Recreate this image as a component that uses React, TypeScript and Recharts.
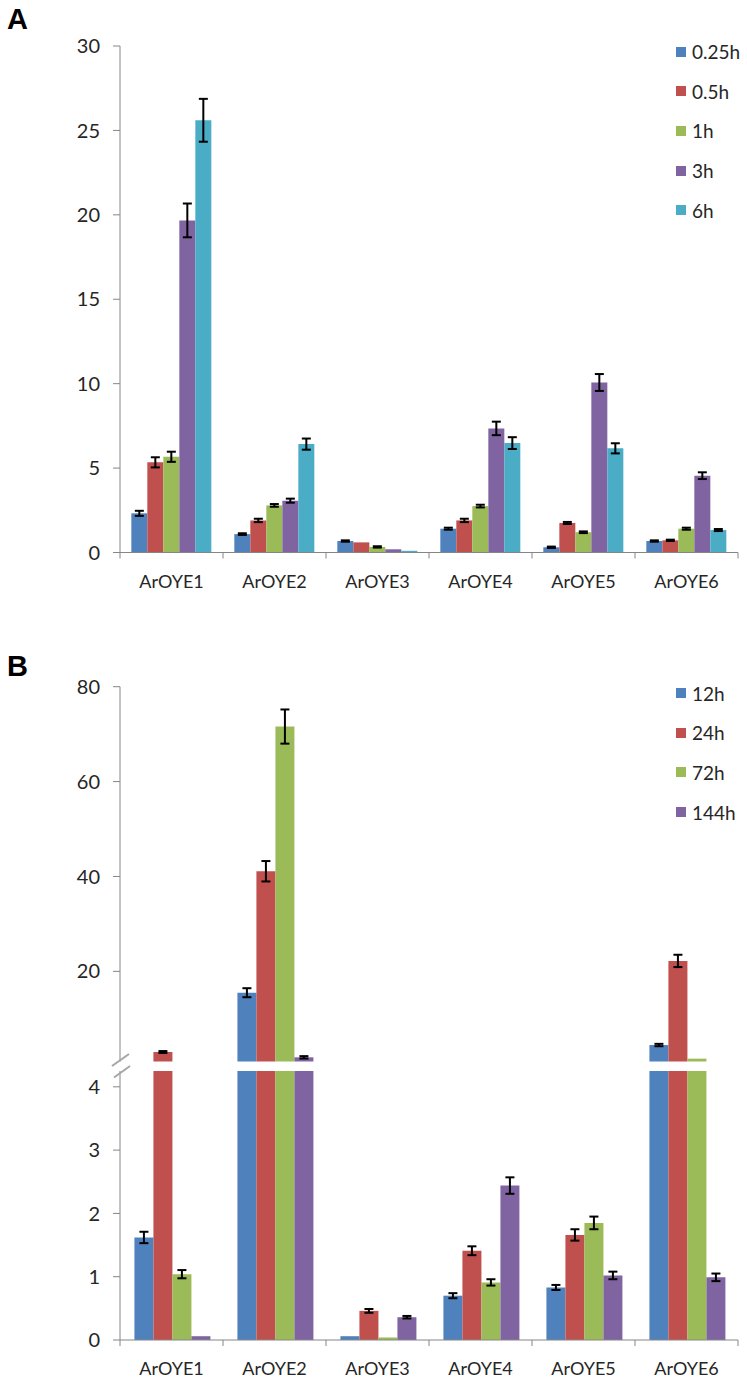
import React from "react";
import { Bar, BarChart, ErrorBar, XAxis, YAxis } from "recharts";

const GENES = ["ArOYE1", "ArOYE2", "ArOYE3", "ArOYE4", "ArOYE5", "ArOYE6"];
const COLORS = ["#4F81BD", "#C0504D", "#9BBB59", "#8064A2", "#4BACC6"];

// panel A: short times
const LABELS_A = ["0.25h", "0.5h", "1h", "3h", "6h"];
const A_025 = [2.32, 1.09, 0.68, 1.41, 0.31, 0.68];
const A_05 = [5.34, 1.9, 0.6, 1.9, 1.75, 0.72];
const A_1 = [5.67, 2.79, 0.33, 2.75, 1.2, 1.41];
const A_3 = [19.67, 3.07, 0.19, 7.35, 10.07, 4.55];
const A_6 = [25.6, 6.42, 0.1, 6.48, 6.17, 1.33];
const A_ERR_025 = [0.15, 0.05, 0.04, 0.06, 0.04, 0.04];
const A_ERR_05 = [0.3, 0.1, 0, 0.1, 0.06, 0.04];
const A_ERR_1 = [0.3, 0.08, 0.04, 0.08, 0.05, 0.06];
const A_ERR_3 = [1.0, 0.12, 0, 0.4, 0.5, 0.2];
const A_ERR_6 = [1.27, 0.33, 0, 0.35, 0.3, 0.06];
const A_TICKS = [0, 5, 10, 15, 20, 25, 30];

// panel B: long times, lower segment (0 - 4.25)
const LABELS_B = ["12h", "24h", "72h", "144h"];
const B_12 = [1.62, 15.5, 0.06, 0.7, 0.83, 4.47];
const B_24 = [4.6, 41.1, 0.46, 1.41, 1.66, 22.2];
const B_72 = [1.04, 71.6, 0.04, 0.91, 1.85, 4.4];
const B_144 = [0.06, 4.5, 0.36, 2.44, 1.02, 0.99];
const B_ERR_12 = [0.09, null, 0, 0.04, 0.04, null];
const B_ERR_24 = [null, null, 0.03, 0.07, 0.09, null];
const B_ERR_72 = [0.065, null, 0, 0.05, 0.1, null];
const B_ERR_144 = [0, null, 0.02, 0.13, 0.06, 0.06];
const B_LOW_TICKS = [0, 1, 2, 3, 4];

// panel B: upper segment, as read on the 20-80 scale
const B_UP_12 = [null, 15.5, null, null, null, 4.47];
const B_UP_24 = [3.0, 41.1, null, null, null, 22.2];
const B_UP_72 = [null, 71.6, null, null, null, 1.6];
const B_UP_144 = [null, 1.88, null, null, null, null];
const B_UP_ERR_12 = [null, 0.95, null, null, null, 0.25];
const B_UP_ERR_24 = [0.2, 2.15, null, null, null, 1.3];
const B_UP_ERR_72 = [null, 3.6, null, null, null, null];
const B_UP_ERR_144 = [null, 0.25, null, null, null, null];
const B_UP_TICKS = [20, 40, 60, 80];

const W = 747;
const PLOT_LEFT = 120;
const PLOT_RIGHT = 9;
const BAND = (W - PLOT_LEFT - PLOT_RIGHT) / GENES.length;
const AXIS_GREY = "#868686";
const TEXT = "#262626";
const FONT = "Lato, 'Open Sans', sans-serif";

const rowsA = GENES.map((gene, i) => ({
  gene,
  s0: A_025[i], e0: A_ERR_025[i],
  s1: A_05[i], e1: A_ERR_05[i],
  s2: A_1[i], e2: A_ERR_1[i],
  s3: A_3[i], e3: A_ERR_3[i],
  s4: A_6[i], e4: A_ERR_6[i],
}));

const rowsBLow = GENES.map((gene, i) => ({
  gene,
  s0: B_12[i], e0: B_ERR_12[i],
  s1: B_24[i], e1: B_ERR_24[i],
  s2: B_72[i], e2: B_ERR_72[i],
  s3: B_144[i], e3: B_ERR_144[i],
}));

const rowsBUp = GENES.map((gene, i) => ({
  gene,
  s0: B_UP_12[i], e0: B_UP_ERR_12[i],
  s1: B_UP_24[i], e1: B_UP_ERR_24[i],
  s2: B_UP_72[i], e2: B_UP_ERR_72[i],
  s3: B_UP_144[i], e3: B_UP_ERR_144[i],
}));

function GeneTick(props: any) {
  const { x, y, payload, index } = props;
  const axisY = y - 8;
  const last = index === GENES.length - 1;
  return (
    <g>
      <line x1={x - BAND / 2} x2={x - BAND / 2} y1={axisY} y2={axisY + 6} stroke={AXIS_GREY} />
      {last && <line x1={x + BAND / 2} x2={x + BAND / 2} y1={axisY} y2={axisY + 6} stroke={AXIS_GREY} />}
      <text x={x} y={axisY + 35} textAnchor="middle" fontSize={18} fill={TEXT} fontFamily={FONT}>
        {payload.value}
      </text>
    </g>
  );
}

const yTick = { fontSize: 20, fill: TEXT, fontFamily: FONT };

function renderBars(count: number) {
  return COLORS.slice(0, count).map((color, i) => (
    <Bar key={i} dataKey={`s${i}`} fill={color} isAnimationActive={false}>
      <ErrorBar dataKey={`e${i}`} width={4.5} stroke="#000" strokeWidth={2} direction="y" isAnimationActive={false} />
    </Bar>
  ));
}

function SideLegend({ labels, top }: { labels: string[]; top: number }) {
  return (
    <div style={{ position: "absolute", left: 676, top, fontFamily: FONT, fontSize: 19, color: TEXT }}>
      {labels.map((label, i) => (
        <div key={label} style={{ height: 39.6, display: "flex", alignItems: "center" }}>
          <span style={{ width: 10, height: 10, background: COLORS[i], marginRight: 6, display: "inline-block" }} />
          <span>{label}</span>
        </div>
      ))}
    </div>
  );
}

export default function App() {
  return (
    <div style={{ position: "absolute", left: 0, top: 0, width: W, height: 1383, background: "#fff", fontFamily: FONT }}>
      {/* panel A */}
      <div style={{ position: "absolute", left: 0, top: 0 }}>
        <BarChart width={W} height={610} data={rowsA} margin={{ top: 46, right: PLOT_RIGHT, bottom: 27.5, left: 60 }}
          barCategoryGap="11%" barGap={0}>
          <XAxis dataKey="gene" height={30} stroke={AXIS_GREY} tickLine={false} tickSize={6} tickMargin={2} tick={<GeneTick />} interval={0} />
          <YAxis width={60} domain={[0, 30]} ticks={A_TICKS} stroke={AXIS_GREY} tickSize={7} tickMargin={13} tick={yTick} />
          {renderBars(5)}
        </BarChart>
      </div>
      <SideLegend labels={LABELS_A} top={32} />

      {/* panel B, upper segment */}
      <div style={{ position: "absolute", left: 0, top: 640 }}>
        <BarChart width={W} height={422} data={rowsBUp} margin={{ top: 46.7, right: PLOT_RIGHT, bottom: 0.5, left: 60 }}
          barCategoryGap="14%" barGap={0}>
          <XAxis dataKey="gene" hide />
          <YAxis width={60} domain={[1, 80]} ticks={B_UP_TICKS} stroke={AXIS_GREY} tickSize={7} tickMargin={13} tick={yTick} />
          {renderBars(4)}
        </BarChart>
      </div>

      {/* panel B, lower segment */}
      <div style={{ position: "absolute", left: 0, top: 1060 }}>
        <BarChart width={W} height={323} data={rowsBLow} margin={{ top: 11, right: PLOT_RIGHT, bottom: 13, left: 60 }}
          barCategoryGap="14%" barGap={0}>
          <XAxis dataKey="gene" height={30} stroke={AXIS_GREY} tickLine={false} tickSize={6} tickMargin={2} tick={<GeneTick />} interval={0} />
          <YAxis width={60} domain={[0, 4.25]} allowDataOverflow ticks={B_LOW_TICKS} stroke={AXIS_GREY} tickSize={7} tickMargin={13} tick={yTick} />
          {renderBars(4)}
        </BarChart>
      </div>
      <SideLegend labels={LABELS_B} top={673.5} />

      <svg width={W} height={1383} style={{ position: "absolute", left: 0, top: 0, pointerEvents: "none" }}>
        <text x={7} y={29} fontFamily="'Liberation Sans', Arial, sans-serif" fontWeight="bold" fontSize={29} fill="#000">A</text>
        <text x={7} y={676} fontFamily="'Liberation Sans', Arial, sans-serif" fontWeight="bold" fontSize={29} fill="#000">B</text>
        {/* axis break marks */}
        <line x1={112} y1={1066} x2={129} y2={1054} stroke="#A6A6A6" strokeWidth={2} />
        <line x1={114} y1={1077.5} x2={130} y2={1066} stroke="#A6A6A6" strokeWidth={2} />
      </svg>
    </div>
  );
}
